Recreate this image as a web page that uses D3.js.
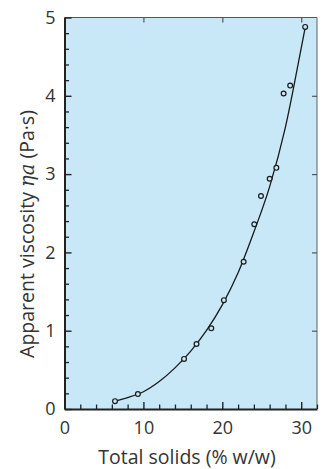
<!DOCTYPE html>
<html><head><meta charset="utf-8">
<script src="https://cdn.jsdelivr.net/npm/d3@7"></script>
<style>html,body{margin:0;padding:0;background:#fff;}svg{display:block;}</style>
</head><body>
<script>
// Measured points: total solids (% w/w) vs apparent viscosity (Pa·s)
const solids    = [6.4, 9.3, 15.15, 16.73, 18.6, 20.2, 22.7, 24.05, 24.9, 26.0, 26.85, 27.77, 28.6, 30.5];
const viscosity = [0.10, 0.19, 0.64, 0.83, 1.03, 1.39, 1.88, 2.36, 2.72, 2.94, 3.08, 4.03, 4.13, 4.88];
// Fitted curve
const fitX = [6.4, 8, 10, 12, 14, 16, 18, 20, 22, 24, 26, 28, 30, 30.5];
const fitY = [0.10, 0.145, 0.22, 0.35, 0.525, 0.74, 1.005, 1.33, 1.74, 2.26, 2.84, 3.60, 4.61, 4.87];
const xTicks = [0, 10, 20, 30];
const yTicks = [0, 1, 2, 3, 4, 5];

const W = 322, H = 469;
const svg = d3.select("body").append("svg").attr("width", W).attr("height", H);
const x = d3.scaleLinear().domain([0, 32]).range([64.5, 317]);
const y = d3.scaleLinear().domain([0, 5]).range([409, 17.5]);
const font = "'Open Sans', Lato, sans-serif";
const txt = "#333";

svg.append("rect").attr("x", x(0)).attr("y", y(5)).attr("width", x(32) - x(0)).attr("height", y(0) - y(5))
  .attr("fill", "#c8e8f8");

// frame top & right
svg.append("line").attr("x1", x(0)).attr("x2", x(32)).attr("y1", y(5)).attr("y2", y(5)).attr("stroke", "#555").attr("stroke-width", 1.2);
svg.append("line").attr("x1", x(32)).attr("x2", x(32)).attr("y1", y(5)).attr("y2", y(0)).attr("stroke", "#777").attr("stroke-width", 1.2);

// minor ticks
const minorX = d3.range(0, 32.01, 2).filter(v => v % 10 !== 0);
const minorY = d3.range(0, 5.001, 0.2).map(v => +v.toFixed(1)).filter(v => Math.abs(v - Math.round(v)) > 1e-6);

const bottom = svg.append("g").attr("transform", `translate(0,${y(0)})`)
  .call(d3.axisBottom(x).tickValues(xTicks).tickFormat(d3.format("d")).tickSizeInner(-7).tickSizeOuter(0).tickPadding(12));
bottom.select(".domain").attr("stroke", "#222").attr("stroke-width", 2);
bottom.selectAll(".tick line").attr("stroke", "#222").attr("stroke-width", 1.4);
bottom.selectAll("text").attr("font-family", font).attr("font-size", 18).attr("fill", txt);
svg.append("g").attr("transform", `translate(0,${y(0)})`)
  .call(d3.axisBottom(x).tickValues(minorX).tickSizeInner(-4.5).tickSizeOuter(0).tickFormat(""))
  .call(g => { g.select(".domain").remove(); g.selectAll("line").attr("stroke", "#222").attr("stroke-width", 1.3); });

const left = svg.append("g").attr("transform", `translate(${x(0)},0)`)
  .call(d3.axisLeft(y).tickValues(yTicks).tickFormat(d3.format("d")).tickSizeInner(-7).tickSizeOuter(0).tickPadding(9));
left.select(".domain").attr("stroke", "#222").attr("stroke-width", 2);
left.selectAll(".tick line").attr("stroke", "#222").attr("stroke-width", 1.4);
left.selectAll("text").attr("font-family", font).attr("font-size", 18).attr("fill", txt);
svg.append("g").attr("transform", `translate(${x(0)},0)`)
  .call(d3.axisLeft(y).tickValues(minorY).tickSizeInner(-4.5).tickSizeOuter(0).tickFormat(""))
  .call(g => { g.select(".domain").remove(); g.selectAll("line").attr("stroke", "#222").attr("stroke-width", 1.3); });

// top and right ticks
svg.append("g").attr("transform", `translate(0,${y(5)})`)
  .call(d3.axisTop(x).tickValues([10, 20, 30]).tickSizeInner(-5).tickSizeOuter(0).tickFormat(""))
  .call(g => { g.select(".domain").remove(); g.selectAll("line").attr("stroke", "#555").attr("stroke-width", 1.2); });
svg.append("g").attr("transform", `translate(${x(32)},0)`)
  .call(d3.axisRight(y).tickValues([1, 2, 3, 4]).tickSizeInner(-5).tickSizeOuter(0).tickFormat(""))
  .call(g => { g.select(".domain").remove(); g.selectAll("line").attr("stroke", "#555").attr("stroke-width", 1.2); });

// fitted curve
const fit = fitX.map((v, i) => [v, fitY[i]]);
svg.append("path").datum(fit)
  .attr("d", d3.line().x(d => x(d[0])).y(d => y(d[1])).curve(d3.curveMonotoneX))
  .attr("fill", "none").attr("stroke", "#1a1a1a").attr("stroke-width", 1.3);

// points
svg.append("g").selectAll("circle").data(solids.map((v, i) => [v, viscosity[i]])).join("circle")
  .attr("cx", d => x(d[0])).attr("cy", d => y(d[1])).attr("r", 2.4)
  .attr("fill", "#c8e8f8").attr("stroke", "#1a1a1a").attr("stroke-width", 1.2);

// axis titles
svg.append("text").attr("x", 187).attr("y", 464).attr("text-anchor", "middle")
  .attr("font-family", font).attr("font-size", 19.5).attr("fill", txt).text("Total solids (% w/w)");
const yt = svg.append("text").attr("transform", "translate(34,234) rotate(-90)").attr("text-anchor", "middle")
  .attr("font-family", font).attr("font-size", 19.5).attr("fill", txt);
yt.append("tspan").text("Apparent viscosity ");
yt.append("tspan").attr("font-style", "italic").attr("font-family", "'DejaVu Serif', serif").text("ηa");
yt.append("tspan").text(" (Pa·s)");
</script>
</body></html>
